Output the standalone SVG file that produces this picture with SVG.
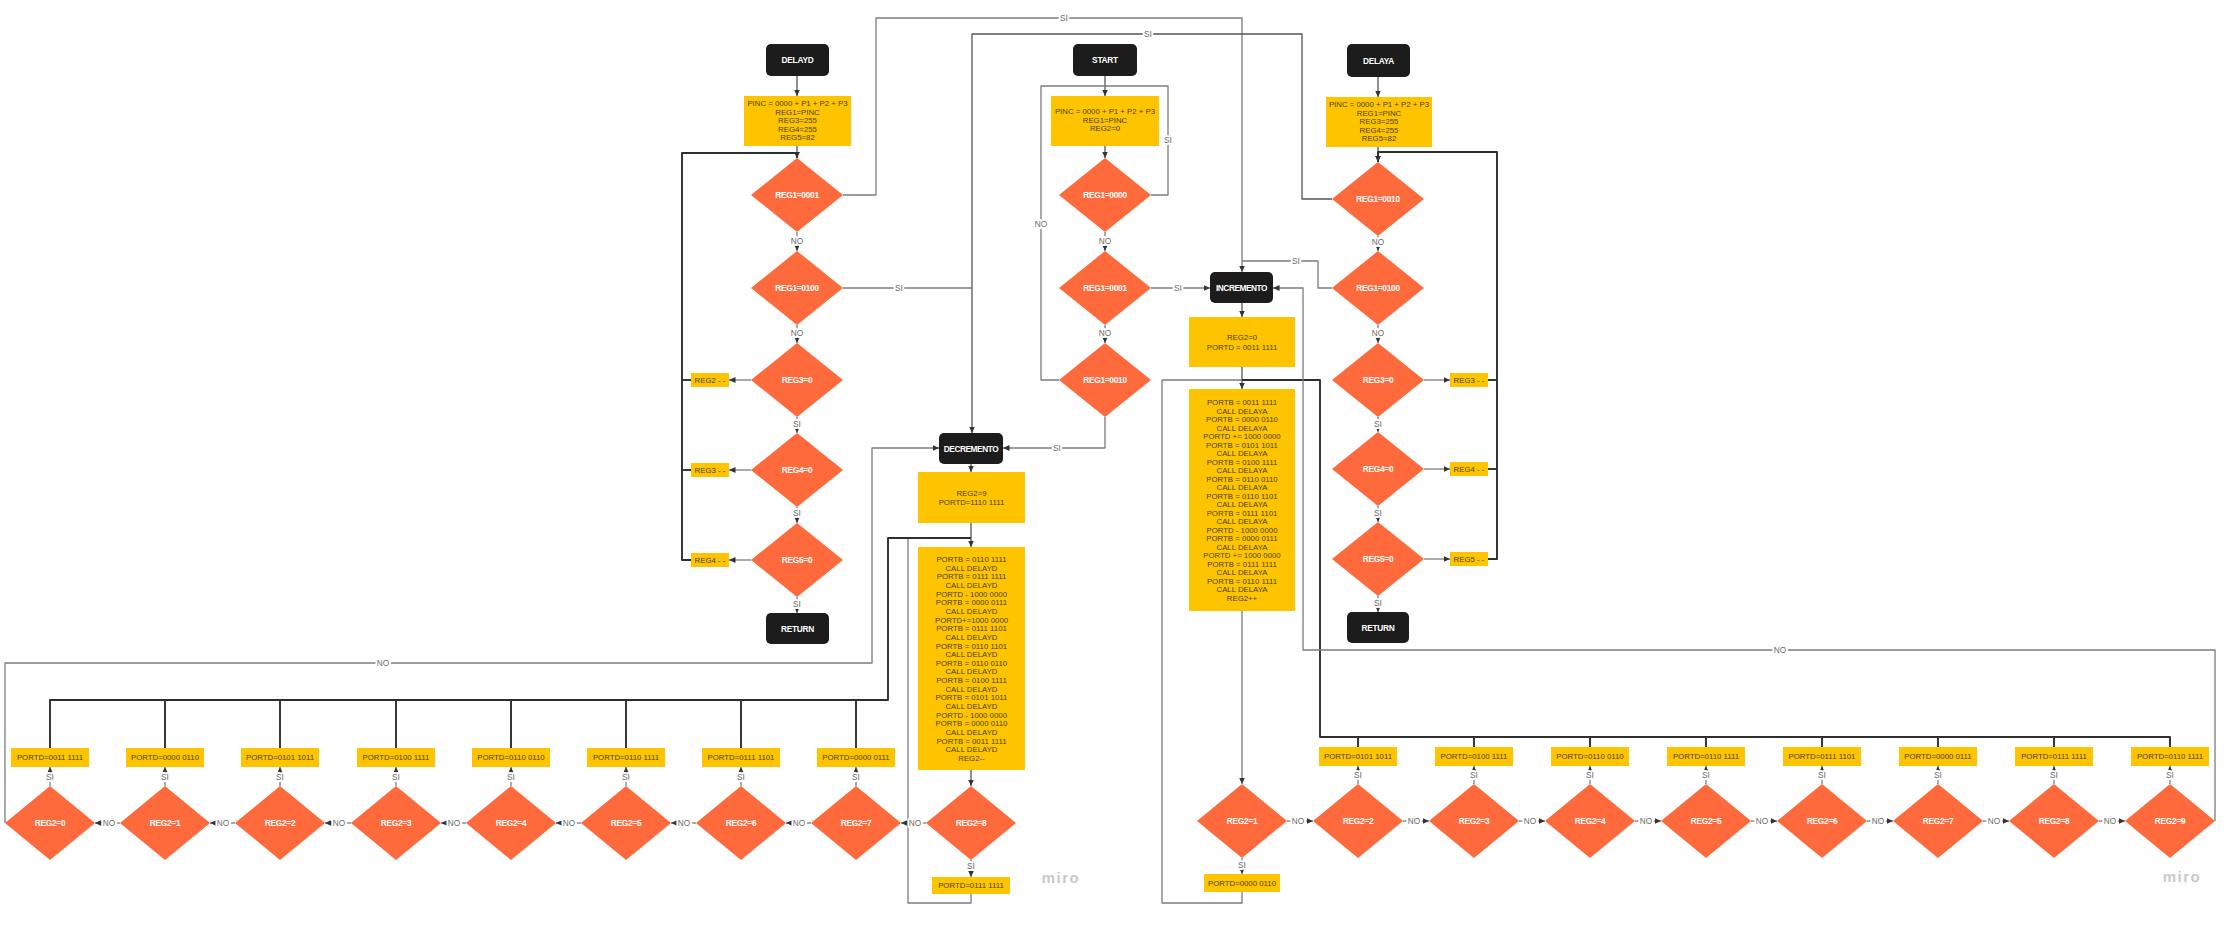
<svg xmlns="http://www.w3.org/2000/svg" width="2240" height="936" viewBox="0 0 2240 936">
<style>
text{font-family:"Liberation Sans",Arial,sans-serif;dominant-baseline:central;text-anchor:middle}
.d{fill:#FF6A3C}
.y{fill:#FFC400}
.b{fill:#1C1C1C}
.tw{fill:#fff;font-weight:bold;font-size:8.3px;letter-spacing:-0.25px}
.ty{fill:#4a3f08;font-size:7.8px}
.lab{fill:#6a6a6a;font-size:8.3px;paint-order:stroke;stroke:#fff;stroke-width:4px;stroke-linejoin:round}
.c{fill:none;stroke:#7c7c7c;stroke-width:1.3;stroke-linejoin:round}
.m{fill:none;stroke:#555;stroke-width:1.3;stroke-linejoin:round}
.k{fill:none;stroke:#2e2e2e;stroke-width:1.9;stroke-linejoin:round}
.wm{fill:#c9c9c9;font-size:15px;letter-spacing:1.5px;font-weight:bold}
</style>
<defs>
<marker id="a" markerUnits="userSpaceOnUse" markerWidth="7" markerHeight="7" refX="6.5" refY="3.5" orient="auto"><path d="M0,0.5 L6.5,3.5 L0,6.5 z" fill="#333"/></marker>
</defs>
<rect width="2240" height="936" fill="#fff"/>

<g id="connectors">
<path class="m" d="M797,76V96" marker-end="url(#a)"/>
<path class="m" d="M797,146V158" marker-end="url(#a)"/>
<path class="k" d="M691,560H682V153H797V158" marker-end="url(#a)"/>
<path class="k" d="M691,470H682"/>
<path class="k" d="M691,380H682"/>
<path class="c" d="M797,232V251" marker-end="url(#a)"/>
<path class="c" d="M797,325V343" marker-end="url(#a)"/>
<path class="c" d="M797,417V433" marker-end="url(#a)"/>
<path class="c" d="M797,507V523" marker-end="url(#a)"/>
<path class="c" d="M797,597V613" marker-end="url(#a)"/>
<path class="c" d="M751,380H729" marker-end="url(#a)"/>
<path class="c" d="M751,470H729" marker-end="url(#a)"/>
<path class="c" d="M751,560H729" marker-end="url(#a)"/>
<path class="c" d="M843,195H876V18H1242V272" marker-end="url(#a)"/>
<path class="c" d="M843,288H972"/>
<path class="m" d="M1332,199H1302V34H972V433" marker-end="url(#a)"/>
<path class="m" d="M1105,76V96" marker-end="url(#a)"/>
<path class="m" d="M1105,146V158" marker-end="url(#a)"/>
<path class="c" d="M1151,195H1168V86H1105"/>
<path class="c" d="M1059,380H1041V86H1105"/>
<path class="c" d="M1105,232V251" marker-end="url(#a)"/>
<path class="c" d="M1105,325V343" marker-end="url(#a)"/>
<path class="c" d="M1151,288H1210" marker-end="url(#a)"/>
<path class="c" d="M1105,417V448H1003" marker-end="url(#a)"/>
<path class="m" d="M1378,77V97" marker-end="url(#a)"/>
<path class="m" d="M1378,147V162" marker-end="url(#a)"/>
<path class="k" d="M1488,559H1497V152H1378V162" marker-end="url(#a)"/>
<path class="k" d="M1488,469H1497"/>
<path class="k" d="M1488,380H1497"/>
<path class="c" d="M1378,236V251" marker-end="url(#a)"/>
<path class="c" d="M1378,325V343" marker-end="url(#a)"/>
<path class="c" d="M1378,417V432" marker-end="url(#a)"/>
<path class="c" d="M1378,506V522" marker-end="url(#a)"/>
<path class="c" d="M1378,596V612" marker-end="url(#a)"/>
<path class="c" d="M1424,380H1450" marker-end="url(#a)"/>
<path class="c" d="M1424,469H1450" marker-end="url(#a)"/>
<path class="c" d="M1424,559H1450" marker-end="url(#a)"/>
<path class="c" d="M1332,288H1318V261H1242"/>
<path class="m" d="M971,464V472" marker-end="url(#a)"/>
<path class="m" d="M971,523V547" marker-end="url(#a)"/>
<path class="m" d="M971,770V786" marker-end="url(#a)"/>
<path class="c" d="M971,860V877" marker-end="url(#a)"/>
<path class="c" d="M971,894V903H908V538H971"/>
<path class="k" d="M50,748V700H888V538H971"/>
<path class="k" d="M165,748V700M280,748V700M396,748V700M511,748V700M626,748V700M741,748V700M856,748V700"/>
<path class="c" d="M5,823V663H872V448H939" marker-end="url(#a)"/>
<path class="c" d="M50,786V767" marker-end="url(#a)"/>
<path class="c" d="M165,786V767" marker-end="url(#a)"/>
<path class="c" d="M280,786V767" marker-end="url(#a)"/>
<path class="c" d="M396,786V767" marker-end="url(#a)"/>
<path class="c" d="M511,786V767" marker-end="url(#a)"/>
<path class="c" d="M626,786V767" marker-end="url(#a)"/>
<path class="c" d="M741,786V767" marker-end="url(#a)"/>
<path class="c" d="M856,786V767" marker-end="url(#a)"/>
<path class="c" d="M120,823H95" marker-end="url(#a)"/>
<path class="c" d="M235,823H210" marker-end="url(#a)"/>
<path class="c" d="M351,823H325" marker-end="url(#a)"/>
<path class="c" d="M466,823H441" marker-end="url(#a)"/>
<path class="c" d="M581,823H556" marker-end="url(#a)"/>
<path class="c" d="M696,823H671" marker-end="url(#a)"/>
<path class="c" d="M811,823H786" marker-end="url(#a)"/>
<path class="c" d="M926,823H901" marker-end="url(#a)"/>
<path class="m" d="M1242,303V317" marker-end="url(#a)"/>
<path class="m" d="M1242,367V389" marker-end="url(#a)"/>
<path class="c" d="M1242,611V784" marker-end="url(#a)"/>
<path class="c" d="M1242,858V874" marker-end="url(#a)"/>
<path class="c" d="M1242,892V903H1162V380H1242"/>
<path class="k" d="M2170,747V737H1320V380H1242"/>
<path class="k" d="M1358,747V737M1474,747V737M1590,747V737M1706,747V737M1822,747V737M1938,747V737M2054,747V737"/>
<path class="c" d="M2215,821V650H1303V288H1273" marker-end="url(#a)"/>
<path class="c" d="M1358,784V766" marker-end="url(#a)"/>
<path class="c" d="M1474,784V766" marker-end="url(#a)"/>
<path class="c" d="M1590,784V766" marker-end="url(#a)"/>
<path class="c" d="M1706,784V766" marker-end="url(#a)"/>
<path class="c" d="M1822,784V766" marker-end="url(#a)"/>
<path class="c" d="M1938,784V766" marker-end="url(#a)"/>
<path class="c" d="M2054,784V766" marker-end="url(#a)"/>
<path class="c" d="M2170,784V766" marker-end="url(#a)"/>
<path class="c" d="M1287,821H1313" marker-end="url(#a)"/>
<path class="c" d="M1403,821H1429" marker-end="url(#a)"/>
<path class="c" d="M1519,821H1545" marker-end="url(#a)"/>
<path class="c" d="M1635,821H1661" marker-end="url(#a)"/>
<path class="c" d="M1751,821H1777" marker-end="url(#a)"/>
<path class="c" d="M1867,821H1893" marker-end="url(#a)"/>
<path class="c" d="M1983,821H2009" marker-end="url(#a)"/>
<path class="c" d="M2099,821H2125" marker-end="url(#a)"/>
<text class="lab" x="1064" y="18">SI</text>
<text class="lab" x="1148" y="34">SI</text>
<text class="lab" x="797" y="241">NO</text>
<text class="lab" x="797" y="333">NO</text>
<text class="lab" x="797" y="424">SI</text>
<text class="lab" x="797" y="513">SI</text>
<text class="lab" x="797" y="604">SI</text>
<text class="lab" x="899" y="288">SI</text>
<text class="lab" x="1168" y="140">SI</text>
<text class="lab" x="1041" y="224">NO</text>
<text class="lab" x="1105" y="241">NO</text>
<text class="lab" x="1105" y="333">NO</text>
<text class="lab" x="1178" y="288">SI</text>
<text class="lab" x="1057" y="448">SI</text>
<text class="lab" x="1378" y="242">NO</text>
<text class="lab" x="1378" y="333">NO</text>
<text class="lab" x="1378" y="424">SI</text>
<text class="lab" x="1378" y="513">SI</text>
<text class="lab" x="1378" y="603">SI</text>
<text class="lab" x="1296" y="261">SI</text>
<text class="lab" x="971" y="866">SI</text>
<text class="lab" x="383" y="663">NO</text>
<text class="lab" x="1242" y="865">SI</text>
<text class="lab" x="1780" y="650">NO</text>
<text class="lab" x="50" y="777">SI</text>
<text class="lab" x="165" y="777">SI</text>
<text class="lab" x="280" y="777">SI</text>
<text class="lab" x="396" y="777">SI</text>
<text class="lab" x="511" y="777">SI</text>
<text class="lab" x="626" y="777">SI</text>
<text class="lab" x="741" y="777">SI</text>
<text class="lab" x="856" y="777">SI</text>
<text class="lab" x="109" y="823">NO</text>
<text class="lab" x="223" y="823">NO</text>
<text class="lab" x="339" y="823">NO</text>
<text class="lab" x="454" y="823">NO</text>
<text class="lab" x="569" y="823">NO</text>
<text class="lab" x="684" y="823">NO</text>
<text class="lab" x="799" y="823">NO</text>
<text class="lab" x="915" y="823">NO</text>
<text class="lab" x="1358" y="775">SI</text>
<text class="lab" x="1474" y="775">SI</text>
<text class="lab" x="1590" y="775">SI</text>
<text class="lab" x="1706" y="775">SI</text>
<text class="lab" x="1822" y="775">SI</text>
<text class="lab" x="1938" y="775">SI</text>
<text class="lab" x="2054" y="775">SI</text>
<text class="lab" x="2170" y="775">SI</text>
<text class="lab" x="1298" y="821">NO</text>
<text class="lab" x="1414" y="821">NO</text>
<text class="lab" x="1530" y="821">NO</text>
<text class="lab" x="1646" y="821">NO</text>
<text class="lab" x="1762" y="821">NO</text>
<text class="lab" x="1878" y="821">NO</text>
<text class="lab" x="1994" y="821">NO</text>
<text class="lab" x="2110" y="821">NO</text>
</g>

<g id="delayd"><rect class="b" x="766" y="44" width="63" height="32" rx="5"/><text class="tw" x="797.5" y="60">DELAYD</text></g>
<g id="delayd-init"><rect class="y" x="744" y="96" width="107" height="50"/><text class="ty" x="797.5" y="103">PINC = 0000 + P1 + P2 + P3<tspan x="797.5" dy="8.5">REG1=PINC</tspan><tspan x="797.5" dy="8.5">REG3=255</tspan><tspan x="797.5" dy="8.5">REG4=255</tspan><tspan x="797.5" dy="8.5">REG5=82</tspan></text></g>
<g id="d-q1"><polygon class="d" points="797,158 843,195 797,232 751,195"/><text class="tw" x="797" y="195">REG1=0001</text></g>
<g id="d-q2"><polygon class="d" points="797,251 843,288 797,325 751,288"/><text class="tw" x="797" y="288">REG1=0100</text></g>
<g id="d-q3"><polygon class="d" points="797,343 843,380 797,417 751,380"/><text class="tw" x="797" y="380">REG3=0</text></g>
<g id="d-q4"><polygon class="d" points="797,433 843,470 797,507 751,470"/><text class="tw" x="797" y="470">REG4=0</text></g>
<g id="d-q5"><polygon class="d" points="797,523 843,560 797,597 751,560"/><text class="tw" x="797" y="560">REG5=0</text></g>
<g id="d-r2"><rect class="y" x="691" y="373" width="38" height="14"/><text class="ty" x="710" y="380">REG2 - -</text></g>
<g id="d-r3"><rect class="y" x="691" y="463" width="38" height="14"/><text class="ty" x="710" y="470">REG3 - -</text></g>
<g id="d-r4"><rect class="y" x="691" y="553" width="38" height="14"/><text class="ty" x="710" y="560">REG4 - -</text></g>
<g id="d-return"><rect class="b" x="766" y="613" width="63" height="31" rx="5"/><text class="tw" x="797.5" y="628.5">RETURN</text></g>

<g id="start"><rect class="b" x="1073" y="44" width="64" height="32" rx="5"/><text class="tw" x="1105" y="60">START</text></g>
<g id="start-init"><rect class="y" x="1051" y="96" width="108" height="50"/><text class="ty" x="1105" y="111">PINC = 0000 + P1 + P2 + P3<tspan x="1105" dy="8.5">REG1=PINC</tspan><tspan x="1105" dy="8.5">REG2=0</tspan></text></g>
<g id="s-q1"><polygon class="d" points="1105,158 1151,195 1105,232 1059,195"/><text class="tw" x="1105" y="195">REG1=0000</text></g>
<g id="s-q2"><polygon class="d" points="1105,251 1151,288 1105,325 1059,288"/><text class="tw" x="1105" y="288">REG1=0001</text></g>
<g id="s-q3"><polygon class="d" points="1105,343 1151,380 1105,417 1059,380"/><text class="tw" x="1105" y="380">REG1=0010</text></g>

<g id="delaya"><rect class="b" x="1347" y="44" width="63" height="33" rx="5"/><text class="tw" x="1378.5" y="60.5">DELAYA</text></g>
<g id="delaya-init"><rect class="y" x="1326" y="97" width="106" height="50"/><text class="ty" x="1379" y="104">PINC = 0000 + P1 + P2 + P3<tspan x="1379" dy="8.5">REG1=PINC</tspan><tspan x="1379" dy="8.5">REG3=255</tspan><tspan x="1379" dy="8.5">REG4=255</tspan><tspan x="1379" dy="8.5">REG5=82</tspan></text></g>
<g id="a-q1"><polygon class="d" points="1378,162 1424,199 1378,236 1332,199"/><text class="tw" x="1378" y="199">REG1=0010</text></g>
<g id="a-q2"><polygon class="d" points="1378,251 1424,288 1378,325 1332,288"/><text class="tw" x="1378" y="288">REG1=0100</text></g>
<g id="a-q3"><polygon class="d" points="1378,343 1424,380 1378,417 1332,380"/><text class="tw" x="1378" y="380">REG3=0</text></g>
<g id="a-q4"><polygon class="d" points="1378,432 1424,469 1378,506 1332,469"/><text class="tw" x="1378" y="469">REG4=0</text></g>
<g id="a-q5"><polygon class="d" points="1378,522 1424,559 1378,596 1332,559"/><text class="tw" x="1378" y="559">REG5=0</text></g>
<g id="a-r3"><rect class="y" x="1450" y="373" width="38" height="14"/><text class="ty" x="1469" y="380">REG3 - -</text></g>
<g id="a-r4"><rect class="y" x="1450" y="462" width="38" height="14"/><text class="ty" x="1469" y="469">REG4 - -</text></g>
<g id="a-r5"><rect class="y" x="1450" y="552" width="38" height="14"/><text class="ty" x="1469" y="559">REG5 - -</text></g>
<g id="a-return"><rect class="b" x="1347" y="612" width="62" height="31" rx="5"/><text class="tw" x="1378" y="627.5">RETURN</text></g>

<g id="decremento"><rect class="b" x="939" y="433" width="64" height="31" rx="5"/><text class="tw" x="971" y="448.5" style="letter-spacing:-0.45px">DECREMENTO</text></g>
<g id="dec-init"><rect class="y" x="918" y="472" width="107" height="51"/><text class="ty" x="971.5" y="493">REG2=9<tspan x="971.5" dy="9">PORTD=1110 1111</tspan></text></g>
<g id="dec-body"><rect class="y" x="918" y="547" width="107" height="223"/><text class="ty" x="971.5" y="559">PORTB = 0110 1111<tspan x="971.5" dy="8.65">CALL DELAYD</tspan><tspan x="971.5" dy="8.65">PORTB = 0111 1111</tspan><tspan x="971.5" dy="8.65">CALL DELAYD</tspan><tspan x="971.5" dy="8.65">PORTD - 1000 0000</tspan><tspan x="971.5" dy="8.65">PORTB = 0000 0111</tspan><tspan x="971.5" dy="8.65">CALL DELAYD</tspan><tspan x="971.5" dy="8.65">PORTD+=1000 0000</tspan><tspan x="971.5" dy="8.65">PORTB = 0111 1101</tspan><tspan x="971.5" dy="8.65">CALL DELAYD</tspan><tspan x="971.5" dy="8.65">PORTB = 0110 1101</tspan><tspan x="971.5" dy="8.65">CALL DELAYD</tspan><tspan x="971.5" dy="8.65">PORTB = 0110 0110</tspan><tspan x="971.5" dy="8.65">CALL DELAYD</tspan><tspan x="971.5" dy="8.65">PORTB = 0100 1111</tspan><tspan x="971.5" dy="8.65">CALL DELAYD</tspan><tspan x="971.5" dy="8.65">PORTB = 0101 1011</tspan><tspan x="971.5" dy="8.65">CALL DELAYD</tspan><tspan x="971.5" dy="8.65">PORTD - 1000 0000</tspan><tspan x="971.5" dy="8.65">PORTB = 0000 0110</tspan><tspan x="971.5" dy="8.65">CALL DELAYD</tspan><tspan x="971.5" dy="8.65">PORTB = 0011 1111</tspan><tspan x="971.5" dy="8.65">CALL DELAYD</tspan><tspan x="971.5" dy="8.65">REG2--</tspan></text></g>
<g id="dq0"><polygon class="d" points="50,786 95,823 50,860 5,823"/><text class="tw" x="50" y="823">REG2=0</text></g>
<g id="dq1"><polygon class="d" points="165,786 210,823 165,860 120,823"/><text class="tw" x="165" y="823">REG2=1</text></g>
<g id="dq2"><polygon class="d" points="280,786 325,823 280,860 235,823"/><text class="tw" x="280" y="823">REG2=2</text></g>
<g id="dq3"><polygon class="d" points="396,786 441,823 396,860 351,823"/><text class="tw" x="396" y="823">REG2=3</text></g>
<g id="dq4"><polygon class="d" points="511,786 556,823 511,860 466,823"/><text class="tw" x="511" y="823">REG2=4</text></g>
<g id="dq5"><polygon class="d" points="626,786 671,823 626,860 581,823"/><text class="tw" x="626" y="823">REG2=5</text></g>
<g id="dq6"><polygon class="d" points="741,786 786,823 741,860 696,823"/><text class="tw" x="741" y="823">REG2=6</text></g>
<g id="dq7"><polygon class="d" points="856,786 901,823 856,860 811,823"/><text class="tw" x="856" y="823">REG2=7</text></g>
<g id="dq8"><polygon class="d" points="971,786 1016,823 971,860 926,823"/><text class="tw" x="971" y="823">REG2=8</text></g>
<g id="dp0"><rect class="y" x="11" y="748" width="78" height="19"/><text class="ty" x="50" y="757.5">PORTD=0011 1111</text></g>
<g id="dp1"><rect class="y" x="126" y="748" width="78" height="19"/><text class="ty" x="165" y="757.5">PORTD=0000 0110</text></g>
<g id="dp2"><rect class="y" x="241" y="748" width="78" height="19"/><text class="ty" x="280" y="757.5">PORTD=0101 1011</text></g>
<g id="dp3"><rect class="y" x="357" y="748" width="78" height="19"/><text class="ty" x="396" y="757.5">PORTD=0100 1111</text></g>
<g id="dp4"><rect class="y" x="472" y="748" width="78" height="19"/><text class="ty" x="511" y="757.5">PORTD=0110 0110</text></g>
<g id="dp5"><rect class="y" x="587" y="748" width="78" height="19"/><text class="ty" x="626" y="757.5">PORTD=0110 1111</text></g>
<g id="dp6"><rect class="y" x="702" y="748" width="78" height="19"/><text class="ty" x="741" y="757.5">PORTD=0111 1101</text></g>
<g id="dp7"><rect class="y" x="817" y="748" width="78" height="19"/><text class="ty" x="856" y="757.5">PORTD=0000 0111</text></g>
<g id="dp8"><rect class="y" x="932" y="877" width="78" height="17"/><text class="ty" x="971" y="885.5">PORTD=0111 1111</text></g>

<g id="incremento"><rect class="b" x="1210" y="272" width="63" height="31" rx="5"/><text class="tw" x="1241.5" y="287.5" style="letter-spacing:-0.45px">INCREMENTO</text></g>
<g id="inc-init"><rect class="y" x="1189" y="317" width="106" height="50"/><text class="ty" x="1242" y="337.5">REG2=0<tspan x="1242" dy="9">PORTD = 0011 1111</tspan></text></g>
<g id="inc-body"><rect class="y" x="1189" y="389" width="106" height="222"/><text class="ty" x="1242" y="402">PORTB = 0011 1111<tspan x="1242" dy="8.52">CALL DELAYA</tspan><tspan x="1242" dy="8.52">PORTB = 0000 0110</tspan><tspan x="1242" dy="8.52">CALL DELAYA</tspan><tspan x="1242" dy="8.52">PORTD += 1000 0000</tspan><tspan x="1242" dy="8.52">PORTB = 0101 1011</tspan><tspan x="1242" dy="8.52">CALL DELAYA</tspan><tspan x="1242" dy="8.52">PORTB = 0100 1111</tspan><tspan x="1242" dy="8.52">CALL DELAYA</tspan><tspan x="1242" dy="8.52">PORTB = 0110 0110</tspan><tspan x="1242" dy="8.52">CALL DELAYA</tspan><tspan x="1242" dy="8.52">PORTB = 0110 1101</tspan><tspan x="1242" dy="8.52">CALL DELAYA</tspan><tspan x="1242" dy="8.52">PORTB = 0111 1101</tspan><tspan x="1242" dy="8.52">CALL DELAYA</tspan><tspan x="1242" dy="8.52">PORTD - 1000 0000</tspan><tspan x="1242" dy="8.52">PORTB = 0000 0111</tspan><tspan x="1242" dy="8.52">CALL DELAYA</tspan><tspan x="1242" dy="8.52">PORTD += 1000 0000</tspan><tspan x="1242" dy="8.52">PORTB = 0111 1111</tspan><tspan x="1242" dy="8.52">CALL DELAYA</tspan><tspan x="1242" dy="8.52">PORTB = 0110 1111</tspan><tspan x="1242" dy="8.52">CALL DELAYA</tspan><tspan x="1242" dy="8.52">REG2++</tspan></text></g>
<g id="iq1"><polygon class="d" points="1242,784 1287,821 1242,858 1197,821"/><text class="tw" x="1242" y="821">REG2=1</text></g>
<g id="iq2"><polygon class="d" points="1358,784 1403,821 1358,858 1313,821"/><text class="tw" x="1358" y="821">REG2=2</text></g>
<g id="iq3"><polygon class="d" points="1474,784 1519,821 1474,858 1429,821"/><text class="tw" x="1474" y="821">REG2=3</text></g>
<g id="iq4"><polygon class="d" points="1590,784 1635,821 1590,858 1545,821"/><text class="tw" x="1590" y="821">REG2=4</text></g>
<g id="iq5"><polygon class="d" points="1706,784 1751,821 1706,858 1661,821"/><text class="tw" x="1706" y="821">REG2=5</text></g>
<g id="iq6"><polygon class="d" points="1822,784 1867,821 1822,858 1777,821"/><text class="tw" x="1822" y="821">REG2=6</text></g>
<g id="iq7"><polygon class="d" points="1938,784 1983,821 1938,858 1893,821"/><text class="tw" x="1938" y="821">REG2=7</text></g>
<g id="iq8"><polygon class="d" points="2054,784 2099,821 2054,858 2009,821"/><text class="tw" x="2054" y="821">REG2=8</text></g>
<g id="iq9"><polygon class="d" points="2170,784 2215,821 2170,858 2125,821"/><text class="tw" x="2170" y="821">REG2=9</text></g>
<g id="ip1"><rect class="y" x="1204" y="874" width="76" height="18"/><text class="ty" x="1242" y="883">PORTD=0000 0110</text></g>
<g id="ip2"><rect class="y" x="1319" y="747" width="78" height="19"/><text class="ty" x="1358" y="756.5">PORTD=0101 1011</text></g>
<g id="ip3"><rect class="y" x="1435" y="747" width="78" height="19"/><text class="ty" x="1474" y="756.5">PORTD=0100 1111</text></g>
<g id="ip4"><rect class="y" x="1551" y="747" width="78" height="19"/><text class="ty" x="1590" y="756.5">PORTD=0110 0110</text></g>
<g id="ip5"><rect class="y" x="1667" y="747" width="78" height="19"/><text class="ty" x="1706" y="756.5">PORTD=0110 1111</text></g>
<g id="ip6"><rect class="y" x="1783" y="747" width="78" height="19"/><text class="ty" x="1822" y="756.5">PORTD=0111 1101</text></g>
<g id="ip7"><rect class="y" x="1899" y="747" width="78" height="19"/><text class="ty" x="1938" y="756.5">PORTD=0000 0111</text></g>
<g id="ip8"><rect class="y" x="2015" y="747" width="78" height="19"/><text class="ty" x="2054" y="756.5">PORTD=0111 1111</text></g>
<g id="ip9"><rect class="y" x="2131" y="747" width="78" height="19"/><text class="ty" x="2170" y="756.5">PORTD=0110 1111</text></g>

<text class="wm" x="1061" y="877">miro</text>
<text class="wm" x="2182" y="876">miro</text>
</svg>
